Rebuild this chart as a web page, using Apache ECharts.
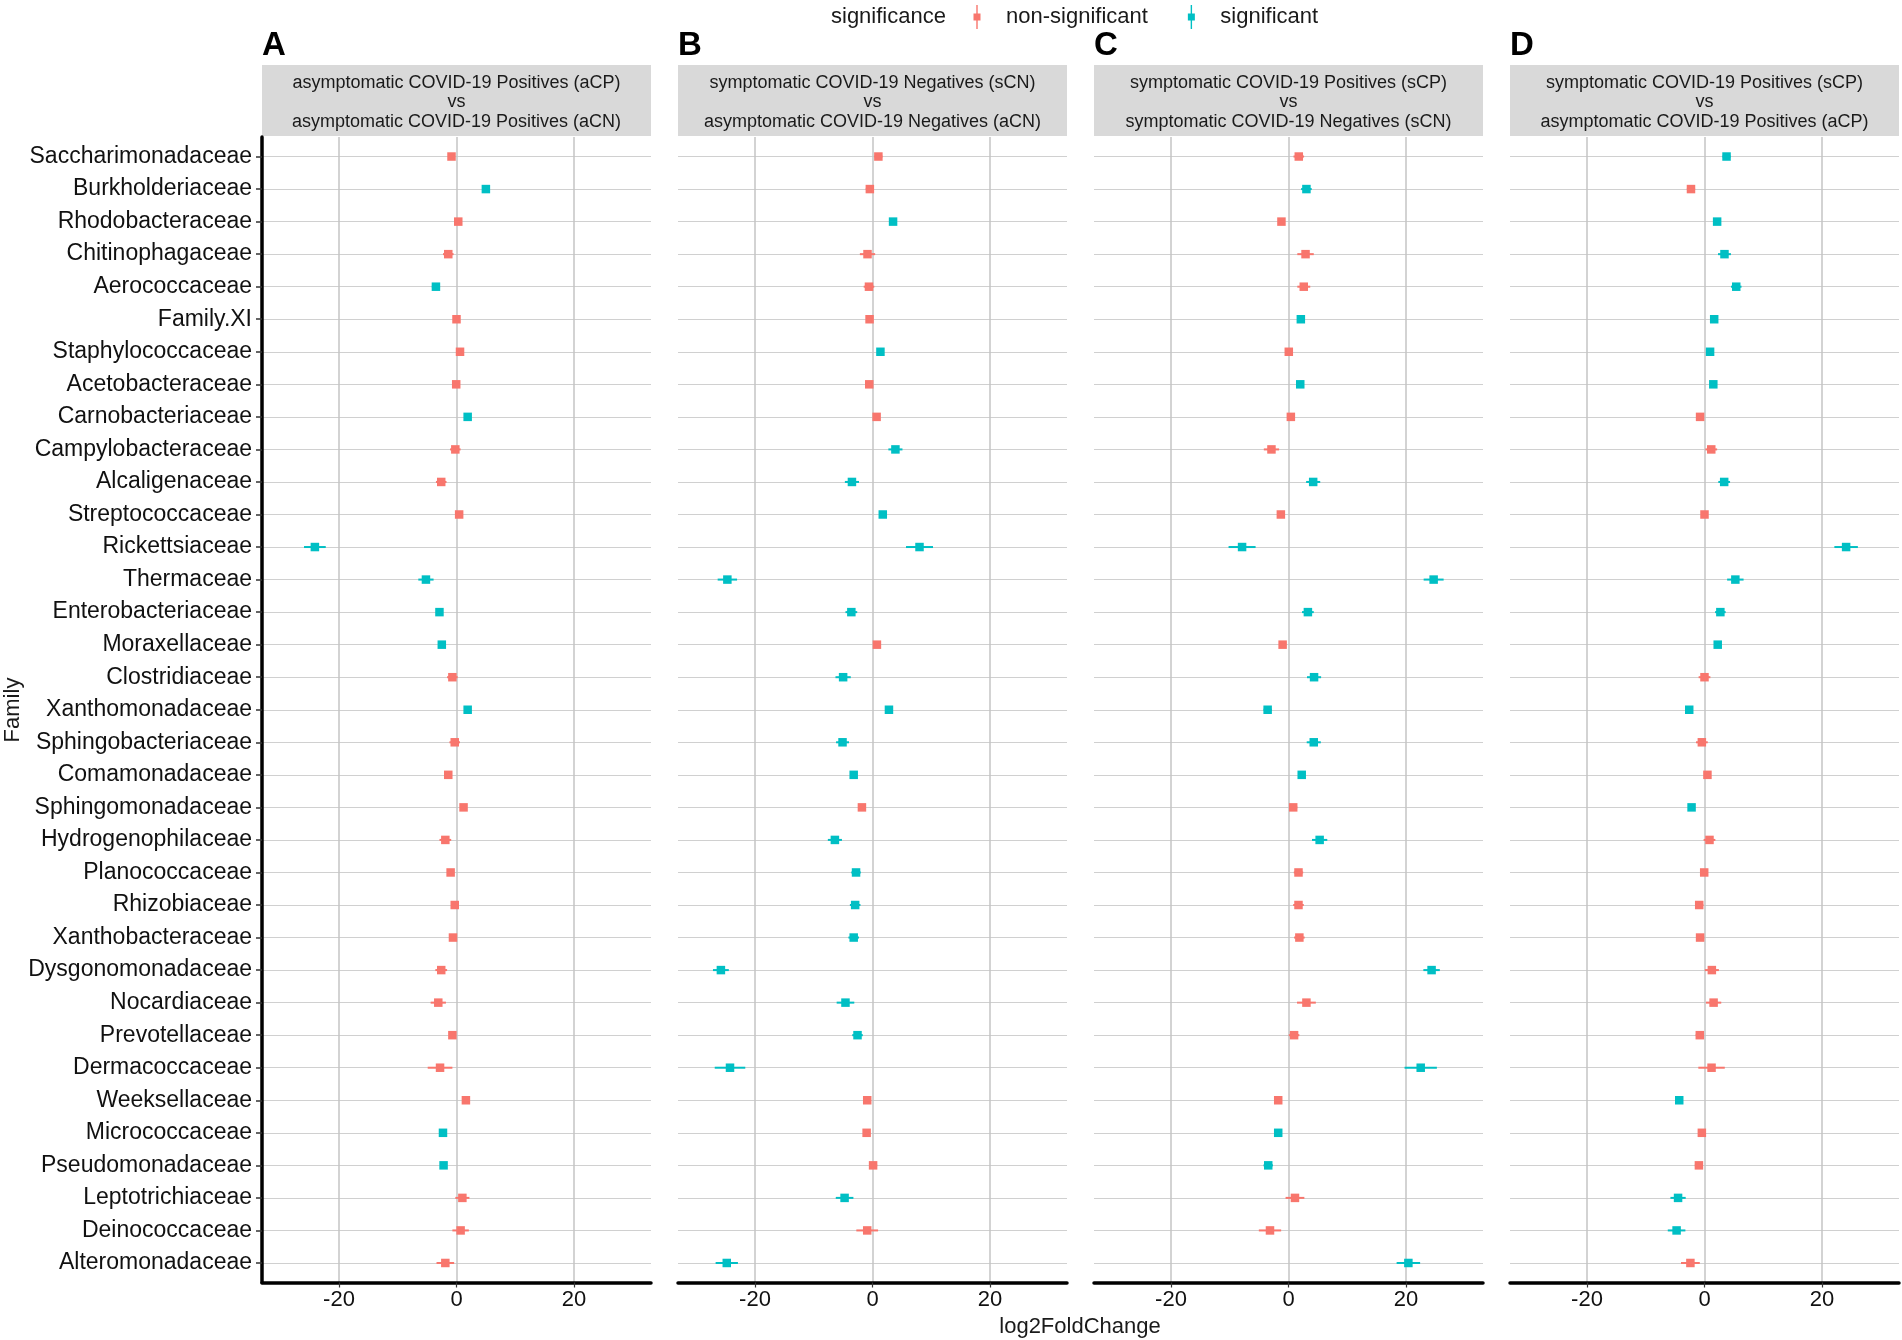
<!DOCTYPE html>
<html>
<head>
<meta charset="utf-8">
<title>log2FoldChange by family</title>
<script src="https://cdn.jsdelivr.net/npm/echarts@6.0.0/dist/echarts.min.js"></script>
<style>
  html, body { margin: 0; padding: 0; background: #fff; }
  #container { width: 1902px; height: 1340px; }
</style>
</head>
<body>
<div id="container"></div>
<script>
// families, top to bottom
var families = ['Saccharimonadaceae', 'Burkholderiaceae', 'Rhodobacteraceae', 'Chitinophagaceae',
    'Aerococcaceae', 'Family.XI', 'Staphylococcaceae', 'Acetobacteraceae', 'Carnobacteriaceae',
    'Campylobacteraceae', 'Alcaligenaceae', 'Streptococcaceae', 'Rickettsiaceae', 'Thermaceae',
    'Enterobacteriaceae', 'Moraxellaceae', 'Clostridiaceae', 'Xanthomonadaceae', 'Sphingobacteriaceae',
    'Comamonadaceae', 'Sphingomonadaceae', 'Hydrogenophilaceae', 'Planococcaceae', 'Rhizobiaceae',
    'Xanthobacteraceae', 'Dysgonomonadaceae', 'Nocardiaceae', 'Prevotellaceae', 'Dermacoccaceae',
    'Weeksellaceae', 'Micrococcaceae', 'Pseudomonadaceae', 'Leptotrichiaceae', 'Deinococcaceae',
    'Alteromonadaceae'];

var panelTitles = [
    'asymptomatic COVID-19 Positives (aCP)\nvs\nasymptomatic COVID-19 Positives (aCN)',
    'symptomatic COVID-19 Negatives (sCN)\nvs\nasymptomatic COVID-19 Negatives (aCN)',
    'symptomatic COVID-19 Positives (sCP)\nvs\nsymptomatic COVID-19 Negatives (sCN)',
    'symptomatic COVID-19 Positives (sCP)\nvs\nasymptomatic COVID-19 Positives (aCP)'
];
var panelLetters = ['A', 'B', 'C', 'D'];
var xTicks = [-20, 0, 20];

// log2FoldChange, error half-width, significant (1) or not (0)
var lfcA = [-0.85, 5.0, 0.3, -1.4, -3.5, 0.0, 0.6, -0.05, 1.9, -0.2, -2.6, 0.45, -24.1, -5.2, -2.9,
    -2.5, -0.7, 1.9, -0.3, -1.4, 1.2, -1.9, -1.0, -0.3, -0.6, -2.6, -3.1, -0.7, -2.8, 1.6, -2.3, -2.2,
    1.0, 0.7, -1.9];
var seA = [0.4, 0.65, 0.4, 0.9, 0.7, 0.4, 0.4, 0.4, 0.4, 0.9, 0.9, 0.4, 1.85, 1.3, 0.6, 0.4, 0.9, 0.4,
    0.9, 0.4, 0.4, 1.0, 0.4, 0.4, 0.4, 1.0, 1.3, 0.4, 2.1, 0.4, 0.4, 0.4, 1.2, 1.4, 1.5];
var sigA = [0, 1, 0, 0, 1, 0, 0, 0, 1, 0, 0, 0, 1, 1, 1, 1, 0, 1, 0, 0, 0, 0, 0, 0, 0, 0, 0, 0, 0, 0,
    1, 1, 0, 0, 0];

var lfcB = [1.0, -0.45, 3.5, -0.85, -0.6, -0.5, 1.35, -0.55, 0.7, 3.9, -3.5, 1.75, 8.0, -24.7, -3.6,
    0.75, -5.0, 2.8, -5.1, -3.2, -1.8, -6.4, -2.8, -2.95, -3.2, -25.8, -4.6, -2.55, -24.25, -0.9, -1.0,
    0.1, -4.75, -0.9, -24.8];
var seB = [0.7, 0.7, 0.4, 1.3, 0.9, 0.4, 0.4, 0.4, 0.4, 1.2, 1.2, 0.4, 2.3, 1.65, 1.0, 0.4, 1.3, 0.5,
    1.1, 0.5, 0.5, 1.2, 0.8, 0.9, 0.9, 1.35, 1.5, 0.9, 2.6, 0.4, 0.4, 0.7, 1.5, 1.85, 1.9];
var sigB = [0, 0, 1, 0, 0, 0, 1, 0, 0, 1, 1, 1, 1, 1, 1, 0, 1, 1, 1, 1, 0, 1, 1, 1, 1, 1, 1, 1, 1, 0,
    0, 0, 1, 0, 1];

var lfcC = [1.75, 3.05, -1.2, 2.9, 2.6, 2.1, 0.05, 2.0, 0.4, -2.9, 4.2, -1.3, -7.9, 24.7, 3.3, -1.0,
    4.35, -3.55, 4.3, 2.25, 0.8, 5.3, 1.7, 1.7, 1.85, 24.35, 3.05, 0.95, 22.5, -1.75, -1.75, -3.45,
    1.1, -3.15, 20.4];
var seC = [0.9, 0.9, 0.4, 1.4, 1.1, 0.4, 0.4, 0.4, 0.4, 1.3, 1.2, 0.4, 2.3, 1.7, 1.0, 0.4, 1.2, 0.7,
    1.2, 0.5, 0.7, 1.3, 0.8, 0.9, 0.9, 1.4, 1.6, 0.9, 2.75, 0.4, 0.4, 0.8, 1.6, 1.9, 2.0];
var sigC = [0, 1, 0, 0, 0, 1, 0, 1, 0, 0, 1, 0, 1, 1, 1, 0, 1, 1, 1, 1, 0, 1, 0, 0, 0, 1, 0, 0, 1, 0,
    1, 1, 0, 0, 1];

var lfcD = [3.75, -2.3, 2.15, 3.4, 5.4, 1.65, 0.95, 1.5, -0.75, 1.15, 3.35, 0.0, 24.1, 5.25, 2.7, 2.25,
    0.0, -2.6, -0.45, 0.5, -2.2, 0.85, -0.05, -0.9, -0.75, 1.25, 1.55, -0.8, 1.2, -4.3, -0.45, -0.95,
    -4.5, -4.75, -2.4];
var seD = [0.7, 0.7, 0.4, 1.1, 0.9, 0.4, 0.4, 0.4, 0.4, 1.0, 1.0, 0.4, 2.0, 1.4, 0.9, 0.4, 1.0, 0.4,
    1.0, 0.4, 0.4, 1.0, 0.4, 0.7, 0.7, 1.2, 1.3, 0.7, 2.25, 0.4, 0.4, 0.7, 1.3, 1.5, 1.6];
var sigD = [1, 0, 1, 1, 1, 1, 1, 1, 0, 0, 1, 0, 1, 1, 1, 1, 0, 1, 0, 0, 1, 0, 0, 0, 0, 0, 0, 0, 0, 1,
    0, 0, 1, 1, 0];

var panels = [[lfcA, seA, sigA], [lfcB, seB, sigB], [lfcC, seC, sigC], [lfcD, seD, sigD]];

var colNS = '#F8766D', colS = '#00BFC4';
var font = '"Liberation Sans", Arial, Helvetica, sans-serif';
var panelLeft = [262, 678, 1094, 1510];
var panelWidth = 389;
var stripTop = 65, stripBottom = 136;
var panelTop = 137, panelHeight = 1145.5;
var rowIdx = families.map(function (f, i) { return i; });

function renderPoint(params, api) {
    var y = api.value(1);
    var p0 = api.coord([api.value(2), y]);
    var p1 = api.coord([api.value(3), y]);
    var c = api.coord([api.value(0), y]);
    var color = api.visual('color');
    return {
        type: 'group',
        children: [
            { type: 'line', shape: { x1: p0[0], y1: p0[1], x2: p1[0], y2: p1[1] },
              style: { stroke: color, lineWidth: 2 } },
            { type: 'rect', shape: { x: c[0] - 4.25, y: c[1] - 4.25, width: 8.5, height: 8.5 },
              style: { fill: color } }
        ]
    };
}

function pointData(p, flag) {
    var lfc = p[0], se = p[1], sig = p[2], out = [];
    for (var i = 0; i < lfc.length; i++) {
        if (sig[i] === flag) out.push([lfc[i], i, lfc[i] - se[i], lfc[i] + se[i]]);
    }
    return out;
}

var grids = [], xAxes = [], yAxes = [], series = [], graphics = [];

panels.forEach(function (p, i) {
    grids.push({ left: panelLeft[i], top: panelTop, width: panelWidth, height: panelHeight });
    xAxes.push({
        gridIndex: i, type: 'value', min: -33.1, max: 33.1,
        axisLine: { show: true, onZero: false, lineStyle: { color: '#000', width: 3.5 } },
        axisTick: { show: true, customValues: xTicks, length: 5, lineStyle: { color: '#333', width: 1.2 } },
        axisLabel: { customValues: xTicks, fontSize: 22, color: '#111', margin: 6, fontFamily: font },
        splitLine: { show: false }
    });
    yAxes.push({
        gridIndex: i, type: 'value', inverse: true, min: -0.6, max: 34.6,
        axisLine: { show: i === 0, onZero: false, lineStyle: { color: '#000', width: 3.5 } },
        axisTick: { show: i === 0, customValues: rowIdx, length: 6, lineStyle: { color: '#333', width: 1.5 } },
        axisLabel: {
            show: i === 0, customValues: rowIdx, fontSize: 23, color: '#111', margin: 10, fontFamily: font,
            formatter: function (v) { return families[Math.round(v)]; }
        },
        splitLine: { show: false }
    });

    // grid lines
    series.push({
        type: 'scatter', name: 'gridlines', xAxisIndex: i, yAxisIndex: i, data: [], silent: true, z: 0,
        markLine: {
            silent: true, z: 0, symbol: ['none', 'none'], label: { show: false }, animation: false,
            lineStyle: { color: '#d0d0d0', width: 1.2, type: 'solid' },
            data: rowIdx.map(function (r) { return { yAxis: r }; }).concat(
                xTicks.map(function (v) { return { xAxis: v, lineStyle: { color: '#c4c4c4', width: 1.5, type: 'solid' } }; }))
        }
    });
    series.push({
        type: 'custom', name: 'non-significant', xAxisIndex: i, yAxisIndex: i, z: 3,
        itemStyle: { color: colNS }, renderItem: renderPoint,
        encode: { x: [0, 2, 3], y: 1 }, data: pointData(p, 0)
    });
    series.push({
        type: 'custom', name: 'significant', xAxisIndex: i, yAxisIndex: i, z: 3,
        itemStyle: { color: colS }, renderItem: renderPoint,
        encode: { x: [0, 2, 3], y: 1 }, data: pointData(p, 1)
    });

    // facet strip + panel letter
    graphics.push({
        type: 'rect', left: panelLeft[i], top: stripTop, silent: true,
        shape: { width: panelWidth, height: stripBottom - stripTop }, style: { fill: '#d9d9d9' }
    });
    graphics.push({
        type: 'text', x: panelLeft[i] + panelWidth / 2, y: 102.5, silent: true,
        style: { text: panelTitles[i], font: '18px ' + font, fill: '#1a1a1a',
                 align: 'center', verticalAlign: 'middle', lineHeight: 19.5 }
    });
    graphics.push({
        type: 'text', x: panelLeft[i], y: 46, silent: true,
        style: { text: panelLetters[i], font: 'bold 33px ' + font, fill: '#000',
                 align: 'left', verticalAlign: 'middle' }
    });
});

graphics.push({
    type: 'text', x: 831, y: 17, silent: true,
    style: { text: 'significance', font: '22px ' + font, fill: '#1a1a1a', align: 'left', verticalAlign: 'middle' }
});
graphics.push({
    type: 'text', x: 1080, y: 1327, silent: true,
    style: { text: 'log2FoldChange', font: '22px ' + font, fill: '#1a1a1a', align: 'center', verticalAlign: 'middle' }
});
graphics.push({
    type: 'text', x: 13, y: 710, rotation: Math.PI / 2, silent: true,
    style: { text: 'Family', font: '22px ' + font, fill: '#1a1a1a', align: 'center', verticalAlign: 'middle' }
});

var dom = document.getElementById('container');
var myChart = echarts.init(dom, null, { renderer: 'canvas' });

var option = {
    animation: false,
    backgroundColor: '#fff',
    legend: {
        data: ['non-significant', 'significant'],
        left: 973.5, top: 5, padding: 0,
        itemWidth: 7, itemHeight: 24, itemGap: 40,
        icon: 'path://M2.8,0 H4.2 V8.5 H7 V15.5 H4.2 V24 H2.8 V15.5 H0 V8.5 H2.8 Z',
        textStyle: { fontSize: 22, color: '#1a1a1a', fontFamily: font, padding: [0, 0, 0, 20.5] }
    },
    grid: grids,
    xAxis: xAxes,
    yAxis: yAxes,
    series: series,
    graphic: graphics
};
myChart.setOption(option, true);
</script>
</body>
</html>
